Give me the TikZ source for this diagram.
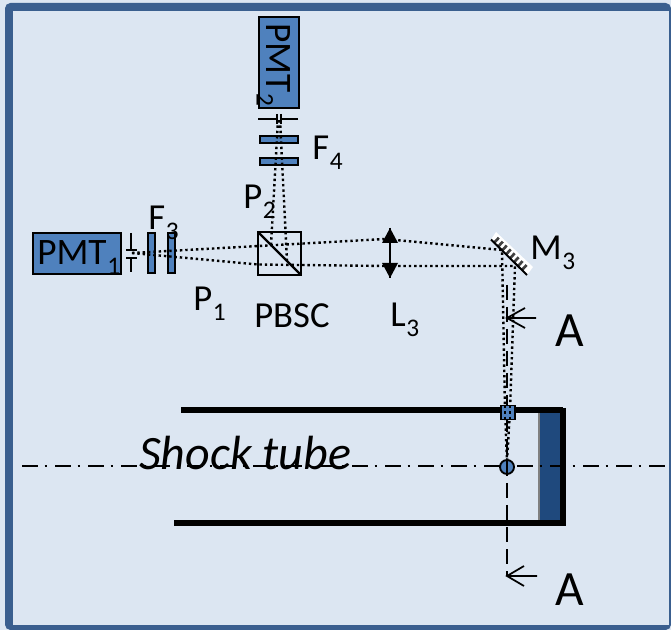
\documentclass[tikz,border=0pt]{standalone}
\usepackage{fontspec}
\setmainfont{Carlito}
\usetikzlibrary{calc}
\definecolor{paper}{HTML}{DCE6F2}
\definecolor{frameblue}{HTML}{3A5F8F}
\definecolor{partblue}{HTML}{4F81BD}
\definecolor{plugblue}{HTML}{1F497D}
\newcommand{\lowsub}[1]{\kern0.5pt\raisebox{-7pt}{\fontsize{19}{19}\selectfont #1}}
\tikzset{
 lab/.style={anchor=base west,inner sep=0pt,font=\fontsize{27.5}{27.5}\selectfont},
 biglab/.style={anchor=base west,inner sep=0pt,font=\fontsize{37}{37}\selectfont},
 part/.style={draw=black,fill=partblue,line width=1.4pt},
 beam/.style={draw=black,line width=1.8pt,dash pattern=on 1.8pt off 2.2pt},
 stopline/.style={draw=black,line width=1.6pt},
 axisline/.style={draw=black,line width=1.4pt},
 tube/.style={draw=black,line width=4.5pt},
 openhead/.style={draw=black,line width=1.3pt},
}
\begin{document}
\begin{tikzpicture}[x=0.75pt,y=-0.75pt]
\useasboundingbox (0,0) rectangle (671,630);
\fill[paper] (0,0) rectangle (671,630);
\fill[frameblue,rounded corners=4pt] (5,3) -- (671,3) -- (671,630) -- (5,630) -- cycle;
\fill[paper] (13,11) rectangle (669,625);
% shock tube
\fill[plugblue] (539,408) rectangle (563,523);
\draw[gray,line width=0.8pt] (539,412) -- (539,521);
\draw[tube] (181,410.5) -- (563,410.5);
\draw[tube] (174,523.5) -- (563,523.5);
\draw[tube] (563,408) -- (563,526);
\node[anchor=base west,inner sep=0pt,font=\fontsize{36}{36}\selectfont\itshape] (shock) at (139,470) {Shock tube};
\draw[axisline,dash pattern=on 12pt off 5pt on 2pt off 5.75pt] (22,466) -- (671,466);
% A-A section line
\draw[axisline,dash pattern=on 11pt off 5.5pt] (507,285) -- (507,576);
\coordinate (a1) at (507,318);
\coordinate (a2) at (507,576);
\draw[openhead] (a1) -- (536,318) (525,308) -- (a1) -- (525,328);
\draw[openhead] (a2) -- (537,576) (524,566) -- (a2) -- (524,586);
\node[biglab] (A1) at (555,347) {A};
\node[biglab] (A2) at (555,605) {A};
% cube
\node[draw=black,line width=1.7pt,minimum size=32pt,inner sep=0pt,outer sep=0pt] (cube) at (279.5,253.5) {};
\draw[black,line width=1.7pt] (cube.north west) -- (cube.south east);
% PMT boxes
\node[part,anchor=north west,minimum width=66pt,minimum height=30.75pt,inner sep=0pt,outer sep=0pt] (pmt1) at (33,233) {};
\node[part,anchor=north west,minimum width=30pt,minimum height=68.25pt,inner sep=0pt,outer sep=0pt] (pmt2) at (259,17) {};
\node[anchor=base west,inner sep=0pt,font=\fontsize{28}{28}\selectfont] (pmt1t) at (37,265) {PMT\lowsub{1}};
\node[anchor=base west,inner sep=0pt,rotate=-90,font=\fontsize{28}{28}\selectfont] (pmt2t) at (266,23) {PMT\lowsub{2}};
% apertures
\draw[stopline] (131,233) -- (131,250) (126,250) -- (137,250);
\draw[stopline] (131,272) -- (131,258) (126,258) -- (137,258);
\draw[stopline] (258,119) -- (277,119) (277,114) -- (277,124);
\draw[stopline] (298,119) -- (281,119) (281,114) -- (281,124);
% filters
\node[part,anchor=north west,minimum width=5.25pt,minimum height=30pt,inner sep=0pt,outer sep=0pt] (f3a) at (148,233) {};
\node[part,anchor=north west,minimum width=5.25pt,minimum height=30pt,inner sep=0pt,outer sep=0pt] (f3b) at (168,233) {};
\node[part,anchor=north west,minimum width=28.5pt,minimum height=5.25pt,inner sep=0pt,outer sep=0pt] (f4a) at (260,136) {};
\node[part,anchor=north west,minimum width=28.5pt,minimum height=5.25pt,inner sep=0pt,outer sep=0pt] (f4b) at (260,158) {};
% lens
\coordinate (lenstop) at (390,228);
\coordinate (lensbot) at (390,278);
\draw[black,line width=1.6pt] (lenstop) -- (lensbot);
\fill[black] (lenstop) -- (398,243) -- (382,243) -- cycle;
\fill[black] (lensbot) -- (398,263) -- (382,263) -- cycle;
% mirror
\coordinate (m1) at (491,239.5);
\coordinate (m2) at (527,275);
\fill[white] (496,232) -- (533,267) -- (527,275) -- (491,239.5) -- cycle;
\foreach \t in {0.09,0.2,...,0.95}{
  \draw[black!75,line width=2pt] ($(m1)!\t!(m2)$) -- ++(4.6,-5);
}
\draw[black,line width=1.5pt] (m1) -- (m2);
% beams
\coordinate (pm) at (132,253);
\coordinate (mt) at (502,250);
\coordinate (mb) at (515,266);
\coordinate (lt) at (385,239);
\coordinate (lb) at (385,266);
\coordinate (spot) at (507,462);
\draw[beam] (pm) -- (lt) -- (mt) -- (505,410) -- (spot);
\draw[beam] (pm) -- (258,264.5) -- (lb) -- (mb) -- (510,410) -- (spot);
\draw[beam] (271,245) -- (278,120);
\draw[beam] (287,261) -- (280,120);
% sample points
\node[part,minimum size=10.5pt,inner sep=0pt,outer sep=0pt] (window) at (508,412.5) {};
\draw[beam] (505,406) -- (505,420) (510,406) -- (510,420);
\node[part,circle,minimum size=10.5pt,inner sep=0pt,outer sep=0pt] (dot) at (507,467) {};
\draw[axisline] (507,460) -- (507,474);
% labels
\node[lab] (F3) at (148,230) {F\lowsub{3}};
\node[lab] (F4) at (312,160) {F\lowsub{4}};
\node[lab] (P2) at (243,209) {P\lowsub{2}};
\node[lab] (P1) at (193,311) {P\lowsub{1}};
\node[lab] (PBSC) at (254,328) {PBSC};
\node[lab] (L3) at (390,327) {L\lowsub{3}};
\node[lab] (M3) at (530,260) {M\lowsub{3}};
\end{tikzpicture}
\end{document}
